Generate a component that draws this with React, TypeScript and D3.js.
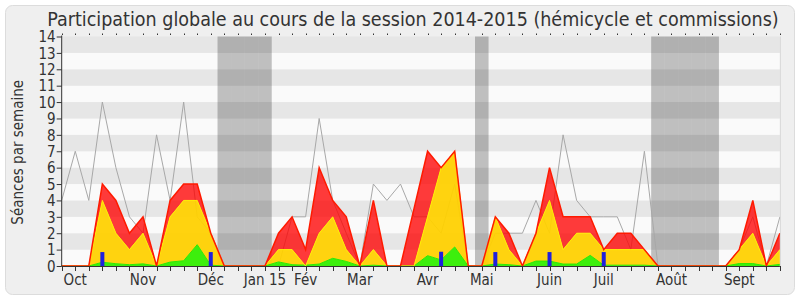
import React from "react";
import * as d3 from "d3";

// Weekly values (index 0 = first week of the session)
const totalSeances = [0, 0, 0, 5, 4, 2, 3, 0, 4, 5, 5, 2, 0, 0, 0, 0, 2, 3, 1, 6, 4, 3, 0, 4, 0, 0, 3.5, 7, 6, 7, 0, 0, 3, 2, 0, 2, 6, 3, 3, 3, 1, 2, 2, 1, 0, 0, 0, 0, 0, 0, 1, 4, 0, 2];
const presentSeances = [0, 0, 0, 4, 2, 1, 2, 0, 3, 4, 4, 2, 0, 0, 0, 0, 1, 1, 0, 2, 3, 1, 0, 1, 0, 0, 0, 3, 6, 7, 0, 0, 3, 1, 0, 2, 4, 1, 2, 2, 1, 1, 1, 1, 0, 0, 0, 0, 0, 0, 1, 2, 0, 1];
const activeSeances = [0, 0, 0, 0.23, 0.14, 0.08, 0.13, 0, 0.24, 0.32, 1.3, 0.05, 0, 0, 0, 0, 0.25, 0.08, 0.05, 0.12, 0.47, 0.28, 0, 0.05, 0, 0, 0, 0.63, 0.37, 1.16, 0, 0, 0.12, 0.08, 0, 0.3, 0.3, 0.12, 0.12, 0.65, 0.05, 0.05, 0.05, 0.05, 0, 0, 0, 0, 0, 0, 0.15, 0.15, 0, 0.1];
const medianSeances = [4, 7, 4, 10, 6, 3, 2, 8, 4, 10, 3, 2, 0, 0, 0, 0, 0, 3, 3, 9, 4, 2, 0, 5, 4, 5, 3, 3, 2, 5, 0, 0, 2, 2, 2, 4, 2, 8, 4, 3, 3, 3, 1, 7, 0, 0, 0, 0, 0, 0, 1, 3, 0, 3];
const questionWeeks = [3, 11, 28, 32, 36, 40];
const questionValues = [0.85, 0.85, 0.87, 0.85, 0.85, 0.85];
const vacationWeeks = [12, 13, 14, 15, 31, 44, 45, 46, 47, 48];
const monthLabels = ["Oct", "Nov", "Déc", "Jan 15", "Fév", "Mar", "Avr", "Mai", "Juin", "Juil", "Août", "Sept"];
const monthWeeks = [1, 6, 11, 15, 18, 22, 27, 31, 36, 40, 45, 50];
const yTickValues = [0, 1, 2, 3, 4, 5, 6, 7, 8, 9, 10, 11, 12, 13, 14];

const W = 800;
const H = 300;
const FONT = "'DejaVu Sans Condensed', 'DejaVu Sans', sans-serif";

export default function App() {
  const n = totalSeances.length;
  const idx = totalSeances.map((_, i) => i);
  const x = d3.scaleLinear().domain([0, n - 1]).range([61.7, 779.9]);
  const y = d3.scaleLinear().domain([0, 14]).range([266, 36.5]);
  const step = x(1) - x(0);

  const band = (lo: number[], hi: number[]) =>
    d3
      .area<number>()
      .x((i) => x(i))
      .y0((i) => y(lo[i]))
      .y1((i) => y(hi[i]))(idx) || "";
  const zeros = totalSeances.map(() => 0);
  const topLine = (vals: number[]) =>
    d3
      .line<number>()
      .x((i) => x(i))
      .y((i) => y(vals[i]))(idx) || "";

  const [x0, x1] = x.range();

  return (
    <svg
      width={W}
      height={H}
      style={{ position: "absolute", left: 0, top: 0, fontFamily: FONT }}
    >
      <rect x={0} y={0} width={W} height={H} fill="#ffffff" />
      <rect x={5.5} y={5.5} width={789} height={289} rx={7} fill="#efefef" stroke="#dcdcdc" />
      <text x={413} y={25.5} textAnchor="middle" fontSize={19.5} fill="#333">
        Participation globale au cours de la session 2014-2015 (hémicycle et commissions)
      </text>

      {/* background stripes */}
      {yTickValues.slice(0, -1).map((v) => (
        <rect
          key={"s" + v}
          x={x0}
          y={y(v + 1)}
          width={x1 - x0}
          height={y(v) - y(v + 1)}
          fill={v % 2 === 1 ? "#e6e6e6" : "#fafafa"}
        />
      ))}

      {/* vacation bands */}
      {vacationWeeks.map((w) => (
        <rect
          key={"v" + w}
          x={x(w - 0.5)}
          y={y(14)}
          width={step}
          height={y(0) - y(14)}
          fill="#000"
          fillOpacity={0.235}
        />
      ))}

      {/* median line */}
      <path d={topLine(medianSeances)} fill="none" stroke="#a8a8a8" strokeWidth={1} />

      {/* stacked areas */}
      <path d={band(presentSeances, totalSeances)} fill="#ff0000" fillOpacity={0.77} />
      <path d={band(activeSeances, presentSeances)} fill="#ffd000" fillOpacity={0.94} />
      <path d={band(zeros, activeSeances)} fill="#33ee00" fillOpacity={0.95} />
      <path d={topLine(activeSeances)} fill="none" stroke="#2ee800" strokeWidth={1} />
      <path d={topLine(presentSeances)} fill="none" stroke="#ffee00" strokeWidth={1} />
      <path d={topLine(totalSeances)} fill="none" stroke="#ff1a00" strokeWidth={1.5} />

      {/* question bars */}
      {questionWeeks.map((w, k) => (
        <rect
          key={"q" + w}
          x={x(w) - 2}
          y={y(questionValues[k])}
          width={4}
          height={y(0) - y(questionValues[k])}
          fill="#2020dd"
        />
      ))}

      {/* axes */}
      <line x1={x1 + 0.5} x2={x1 + 0.5} y1={y(14)} y2={y(0)} stroke="#d8d8d8" />
      <line x1={x0} x2={x0} y1={y(14) - 1} y2={y(0)} stroke="#333" />
      <line x1={x0} x2={x1} y1={y(0) + 0.5} y2={y(0) + 0.5} stroke="#333" />
      {yTickValues.map((v) => (
        <g key={"yt" + v}>
          <line x1={x0 - 5} x2={x0} y1={y(v) + 0.5} y2={y(v) + 0.5} stroke="#333" />
          <text
            x={x0 - 6}
            y={y(v)}
            dy="0.38em"
            textAnchor="end"
            fontSize={15}
            fill="#333"
          >
            {v}
          </text>
        </g>
      ))}
      {idx.map((i) => (
        <g key={"xt" + i}>
          <line
            x1={Math.round(x(i)) + 0.5}
            x2={Math.round(x(i)) + 0.5}
            y1={y(0)}
            y2={y(0) + 5}
            stroke="#333"
          />
          <line
            x1={Math.round(x(i)) + 0.5}
            x2={Math.round(x(i)) + 0.5}
            y1={y(14) - 3}
            y2={y(14) - 1.5}
            stroke="#333"
          />
        </g>
      ))}
      {monthLabels.map((m, k) => (
        <text
          key={"m" + m}
          x={x(monthWeeks[k])}
          y={285}
          textAnchor="middle"
          fontSize={15}
          fill="#333"
        >
          {m}
        </text>
      ))}
      <text
        transform={`translate(23,${(y(0) + y(14)) / 2 + 1}) rotate(-90)`}
        textAnchor="middle"
        fontSize={15}
        fill="#333"
      >
        Séances par semaine
      </text>
    </svg>
  );
}
